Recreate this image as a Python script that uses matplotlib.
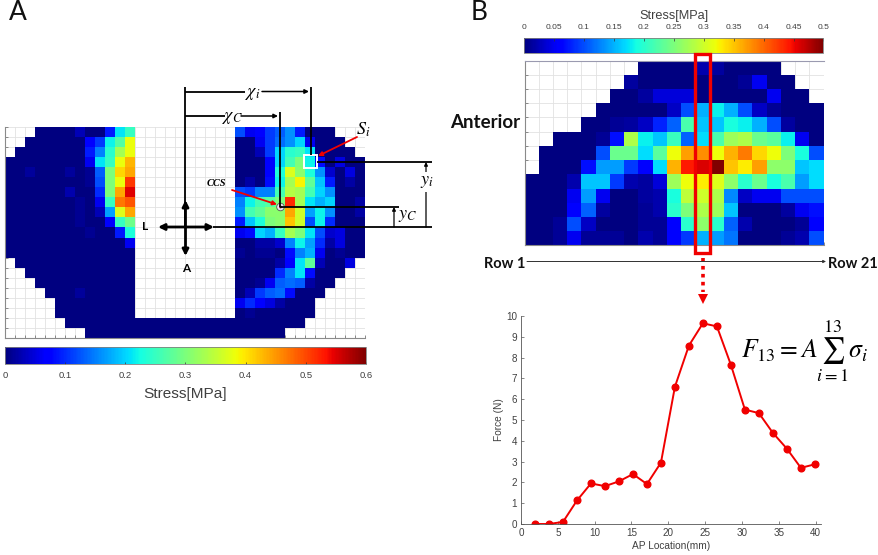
import numpy as np
import matplotlib
matplotlib.use("Agg")
import matplotlib.pyplot as plt
from matplotlib.cm import ScalarMappable
from matplotlib.colors import Normalize
from matplotlib.patches import Rectangle, Circle

plt.rcParams["font.family"] = ["Liberation Sans", "DejaVu Sans"]
plt.rcParams["mathtext.fontset"] = "stix"

W = np.nan  # outside the contact area

# Panel A: stress (MPa), left compartment, 13 columns per row
stress_a_left = [
    [W, W, W, 0, 0, 0, 0, .03, 0, 0, .09, .21, .25],
    [W, W, 0, 0, 0, 0, 0, 0, .07, .11, .22, .27, .38],
    [W, 0, 0, 0, 0, 0, 0, 0, .09, .15, .24, .33, .38],
    [0, 0, 0, 0, 0, 0, 0, 0, .06, .21, .25, .38, .43],
    [0, 0, .015, 0, 0, 0, .015, 0, .01, .13, .30, .41, .44],
    [0, 0, 0, 0, 0, 0, 0, 0, .01, .12, .30, .38, .51],
    [0, 0, 0, 0, 0, 0, .025, 0, 0, .10, .30, .44, .55],
    [0, 0, 0, 0, 0, 0, 0, .01, 0, .06, .25, .47, .49],
    [0, 0, 0, 0, 0, 0, 0, .01, 0, .03, .17, .37, .44],
    [0, 0, 0, 0, 0, 0, 0, .01, 0, 0, .07, .25, .29],
    [0, 0, 0, 0, 0, 0, 0, 0, .01, 0, 0, .09, .23],
    [0, 0, 0, 0, 0, 0, 0, 0, 0, 0, 0, 0, .06],
    [0, 0, 0, 0, 0, 0, 0, 0, 0, 0, 0, 0, 0],
    [W, 0, 0, 0, 0, 0, 0, 0, 0, 0, 0, 0, 0],
    [W, W, 0, 0, 0, 0, 0, 0, 0, 0, 0, 0, 0],
    [W, W, W, 0, 0, 0, 0, 0, 0, 0, 0, 0, 0],
    [W, W, W, W, 0, 0, 0, .015, 0, 0, 0, 0, 0],
    [W, W, W, W, W, 0, 0, 0, 0, 0, 0, 0, 0],
    [W, W, W, W, W, 0, 0, 0, 0, 0, 0, 0, 0],
    [W, W, W, W, W, W, 0, 0, 0, 0, 0, 0, 0],
    [W, W, W, W, W, W, W, W, 0, 0, 0, 0, 0],
]

# Panel A: the notch between the compartments, one value per row
stress_a_notch = [W] * 19 + [0, 0]

# Panel A: stress (MPa), right compartment, 13 columns per row
stress_a_right = [
    [.12, .06, .07, .11, .13, .16, .09, 0, 0, 0, W, W, W],
    [0, 0, .06, .11, .14, .16, .20, .06, 0, 0, 0, W, W],
    [0, 0, .03, .11, .20, .24, .25, .21, 0, 0, 0, 0, W],
    [0, 0, 0, .07, .20, .26, .30, .22, .08, 0, .05, 0, 0],
    [0, 0, 0, .07, .23, .37, .31, .23, .16, .04, 0, .05, 0],
    [0, .02, 0, .08, .22, .33, .39, .28, .19, .09, 0, .02, 0],
    [.12, .11, .15, .15, .26, .34, .33, .26, .20, .16, 0, 0, 0],
    [.15, .22, .26, .27, .30, .52, .33, .21, .18, .20, 0, 0, .02],
    [.16, .26, .28, .31, .31, .44, .36, .17, .22, .16, 0, 0, .02],
    [.09, .19, .23, .30, .31, .42, .36, .12, .22, .10, 0, 0, 0],
    [.06, .08, .20, .18, .25, .33, .30, .21, .12, .04, .05, 0, 0],
    [0, 0, .02, .02, .04, .15, .22, .17, .10, .02, .05, 0, 0],
    [.01, 0, .01, .01, 0, .08, .15, .18, .06, 0, .01, 0, 0],
    [0, 0, 0, 0, .02, .07, .21, .28, .03, 0, 0, .05, W],
    [0, 0, 0, 0, .10, .15, .21, .08, 0, 0, 0, W, W],
    [0, 0, .01, .06, .13, .14, .13, .02, 0, 0, W, W, W],
    [0, .03, .11, .13, .14, .08, 0, 0, 0, W, W, W, W],
    [.06, .10, .07, .05, .02, 0, 0, 0, W, W, W, W, W],
    [0, .01, 0, 0, 0, 0, 0, 0, W, W, W, W, W],
    [0, 0, 0, 0, 0, 0, 0, W, W, W, W, W, W],
    [0, 0, 0, 0, 0, W, W, W, W, W, W, W, W],
]

# Panel B: stress (MPa), 21 rows across, 13 down
stress_b = [
    [W, W, W, W, W, W, W, W, 0, 0, 0, 0, .02, .015, 0, 0, 0, 0, W, W, W],
    [W, W, W, W, W, W, W, .015, 0, 0, 0, 0, 0, 0, 0, .01, .05, 0, 0, W, W],
    [W, W, W, W, W, W, 0, 0, .015, .04, .04, .04, 0, 0, 0, 0, 0, .05, 0, 0, W],
    [W, W, W, W, W, 0, 0, 0, 0, 0, .03, .10, .15, .18, .15, .10, .03, .01, 0, 0, 0],
    [W, W, W, W, 0, 0, .01, .015, .03, .08, .11, .22, .16, .16, .19, .18, .15, .10, .015, 0, 0],
    [W, W, 0, 0, 0, .01, .07, .28, .18, .16, .21, .11, .17, .22, .27, .28, .24, .23, .18, .05, 0],
    [W, 0, 0, 0, 0, .10, .24, .24, .17, .23, .32, .37, .38, .32, .36, .39, .34, .32, .25, .19, .10],
    [W, 0, 0, 0, .07, .14, .14, .09, .06, .17, .36, .44, .46, .50, .35, .33, .37, .26, .26, .16, .17],
    [0, 0, 0, .02, .16, .16, .09, .02, .015, .04, .27, .32, .33, .31, .26, .20, .24, .19, .22, .14, .17],
    [0, 0, 0, .05, .14, .05, 0, 0, .015, .02, .19, .29, .30, .28, .13, .03, .05, .05, .10, .10, .10],
    [0, 0, 0, .06, .11, .015, 0, 0, .01, .02, .20, .25, .28, .27, .16, 0, 0, 0, .015, .05, .07],
    [0, 0, .01, .10, .03, 0, 0, 0, .01, .01, .06, .20, .26, .20, .11, .02, 0, 0, 0, .01, .06],
    [0, 0, .01, .05, .01, .01, .01, 0, .02, .01, .06, .09, .15, .14, .12, 0, 0, 0, .01, .02, .10],
]

# Panel B: force along the highlighted row
ap_location = [1.9, 3.8, 5.7, 7.6, 9.5, 11.4, 13.3, 15.2, 17.1, 19.0, 20.9,
               22.8, 24.7, 26.6, 28.5, 30.4, 32.3, 34.2, 36.1, 38.0, 39.9]
force = [0, 0, .1, 1.13, 1.95, 1.82, 2.05, 2.4, 1.92, 2.95, 6.6,
         8.58, 9.65, 9.5, 7.65, 5.5, 5.33, 4.38, 3.62, 2.7, 2.87]

cbar_a_ticks = [0, .1, .2, .3, .4, .5, .6]
cbar_a_labels = ["0", "0.1", "0.2", "0.3", "0.4", "0.5", "0.6"]
cbar_b_ticks = [0, .05, .1, .15, .2, .25, .3, .35, .4, .45, .5]
cbar_b_labels = ["0", "0.05", "0.1", "0.15", "0.2", "0.25", "0.3", "0.35", "0.4", "0.45", "0.5"]

FW, FH = 879, 555
TXT = "#404040"
RED = "#f00000"


def px_axes(x0, y0, x1, y1, **kw):
    """Axes from pixel box, y measured from the top of the picture."""
    return fig.add_axes([x0 / FW, 1 - y1 / FH, (x1 - x0) / FW, (y1 - y0) / FH], **kw)


def heatmap(ax, data, vmax):
    data = np.array(data, dtype=float)
    rows, cols = data.shape
    ax.pcolormesh(np.arange(cols + 1), np.arange(rows + 1), np.ma.masked_invalid(data),
                  cmap="jet", vmin=0, vmax=vmax)
    ax.set_xlim(0, cols)
    ax.set_ylim(rows, 0)
    ax.set_xticks(np.arange(cols + 1))
    ax.set_yticks(np.arange(rows + 1))
    ax.set_xticklabels([])
    ax.set_yticklabels([])
    ax.tick_params(direction="in", length=2.2, width=0.6, color="#777777")
    ax.grid(True, color="#e2e2e2", lw=0.6)
    ax.set_axisbelow(True)
    for side in ["top", "right"]:
        ax.spines[side].set_visible(False)
    for side in ["left", "bottom"]:
        ax.spines[side].set_color("#8a8a8a")
        ax.spines[side].set_linewidth(0.8)


def colorbar(cax, vmax, ticks, labels, size, where):
    cb = fig.colorbar(ScalarMappable(Normalize(0, vmax), "jet"), cax=cax, orientation="horizontal")
    cb.set_ticks(ticks, labels=labels)
    cb.outline.set_edgecolor("#808080")
    cb.outline.set_linewidth(0.6)
    cax.xaxis.set_ticks_position(where)
    cax.tick_params(direction="in", length=1.8, width=0.5, color="#333333",
                    labelsize=size, labelcolor=TXT, pad=5)


fig = plt.figure(figsize=(FW / 100, FH / 100), dpi=100)

# %% Panel A
ax_a = px_axes(5, 127, 365, 338)
stress_a = [l + [n] * 10 + r for l, n, r in zip(stress_a_left, stress_a_notch, stress_a_right)]
heatmap(ax_a, stress_a, 0.6)

cax_a = px_axes(5, 347, 366, 364)
colorbar(cax_a, 0.6, cbar_a_ticks, cbar_a_labels, 6.8, "bottom")

# %% Panel B
ax_b = px_axes(524.5, 60.5, 823.5, 245.5)
heatmap(ax_b, stress_b, 0.5)
ax_b.spines["top"].set_visible(True)
ax_b.spines["top"].set_color("#9a9ab0")

cax_b = px_axes(524, 38, 823.5, 53)
colorbar(cax_b, 0.5, cbar_b_ticks, cbar_b_labels, 6.0, "top")

# %% Force curve
ax_f = px_axes(521, 316, 821.5, 524)
ax_f.plot(ap_location, force, "-o", color=RED, lw=1.4, ms=4.8)
ax_f.set_xlim(0, 40.8)
ax_f.set_ylim(0, 10)
ax_f.set_xticks(range(0, 41, 5))
ax_f.set_yticks(range(0, 11))
ax_f.set_xlabel("AP Location(mm)", fontsize=7.3, color=TXT, labelpad=2)
ax_f.set_ylabel("Force (N)", fontsize=7.3, color=TXT, labelpad=1)
ax_f.tick_params(direction="in", length=2, width=0.5, labelsize=7.1, labelcolor=TXT, color="#555555", pad=3)
ax_f.patch.set_alpha(0)
ax_f.spines["top"].set_visible(False)
ax_f.spines["right"].set_visible(False)
for side in ["left", "bottom"]:
    ax_f.spines[side].set_color("#555555")
    ax_f.spines[side].set_linewidth(0.6)

# %% Overlay in picture pixels for the labels and the construction lines
ov = fig.add_axes([0, 0, 1, 1], zorder=10)
ov.set_xlim(0, FW)
ov.set_ylim(FH, 0)
ov.axis("off")
ov.patch.set_alpha(0)


def line(x0, y0, x1, y1, color="black", lw=1.3):
    ov.plot([x0, x1], [y0, y1], color=color, lw=lw, solid_capstyle="butt")


def arrow(x0, y0, x1, y1, color="black", lw=1.1, style="-|>", scale=6):
    ov.annotate("", xy=(x1, y1), xytext=(x0, y0),
                arrowprops=dict(arrowstyle=style, color=color, lw=lw, mutation_scale=scale,
                                shrinkA=0, shrinkB=0))


def mtext(x, y, s, size=12, bg=None):
    kw = dict(facecolor=bg, edgecolor="none", pad=0.8) if bg else None
    ov.text(x, y, s, fontsize=size, ha="center", va="center", color="black", bbox=kw)


ov.text(18, 12, "A", family="Lato", fontsize=19, ha="center", va="center", color="#111111")
ov.text(479, 12, "B", family="Lato", fontsize=19, ha="center", va="center", color="#111111")

ov.text(185, 394, "Stress[MPa]", fontsize=11.1, ha="center", va="center", color=TXT)
ov.text(674, 16, "Stress[MPa]", fontsize=9.2, ha="center", va="center", color=TXT)

# x distances
line(185.5, 87, 185.5, 227)
line(310.7, 87, 310.7, 155)
line(280, 112, 280, 207)
line(185.5, 92, 245, 92)
arrow(262, 91.5, 309, 91.5)
line(185.5, 116, 225, 116)
arrow(241, 116, 278, 116)
mtext(253, 93, r"$\chi_i$", 13)
mtext(232, 118, r"$\chi_C$", 13)

# y distances
line(317, 162, 432, 162)
line(280, 207, 399, 207)
line(213, 227, 432, 227)
arrow(394, 227, 394, 207, lw=0.9, scale=5)
arrow(426, 227, 426, 162, lw=0.9, scale=5)
mtext(408, 216, r"$y_C$", 13)
mtext(427, 182, r"$y_i$", 13, bg="white")

# centre cross
arrow(185.5, 227, 158, 227, lw=2, scale=9)
arrow(185.5, 227, 214, 227, lw=2, scale=9)
arrow(185.5, 227, 185.5, 200, lw=2, scale=9)
arrow(185.5, 227, 185.5, 256, lw=2, scale=9)
ov.text(145, 227, "L", family="Lato", weight="bold", fontsize=8.5, ha="center", va="center")
ov.text(186, 268, "A", family="Lato", weight="bold", fontsize=8.5, ha="center", va="center")

# markers and callouts
ov.add_patch(Rectangle((304.5, 155), 12.5, 13, fill=False, ec="white", lw=1.4))
arrow(357, 137, 318, 156, color=RED, lw=1.3, scale=6)
mtext(363, 130, r"$S_i$", 13)
ov.add_patch(Circle((280.5, 207), 3.8, fc="#e8e8f0", ec="#555555", lw=0.6))
ov.add_patch(Circle((280.5, 207), 1.4, fc="#c00020", ec="none"))
arrow(232, 190, 277, 204.5, color=RED, lw=1.3, scale=6)
ov.text(216.5, 184, "CCS", family="Liberation Serif", style="italic", weight="bold",
        fontsize=7.5, ha="center", va="center", color="black")

# panel B callouts
ov.add_patch(Rectangle((695, 53.5), 15, 199, fill=False, ec=RED, lw=2.4))
arrow(527, 261.5, 826, 261.5, color="#303030", lw=0.7, scale=4)
ov.text(504.5, 264, "Row 1", family="Lato", weight="bold", fontsize=10.5, ha="center", va="center", color="#111111")
ov.text(852.5, 264, "Row 21", family="Lato", weight="bold", fontsize=10.5, ha="center", va="center", color="#111111")
ov.text(485, 122, "Anterior", family="Lato", weight="bold", fontsize=13.5, ha="center", va="center", color="#111111")
ov.plot([702.7, 702.7], [258, 292], color=RED, lw=2.6, ls=(0, (1, 1.2)))
ov.plot([702.7], [298.5], marker="v", color=RED, ms=7, mew=0)

mtext(804, 351, r"$F_{13} = A\sum_{i=1}^{13}\sigma_i$", 18.5)

fig.savefig("out.png", dpi=100)
